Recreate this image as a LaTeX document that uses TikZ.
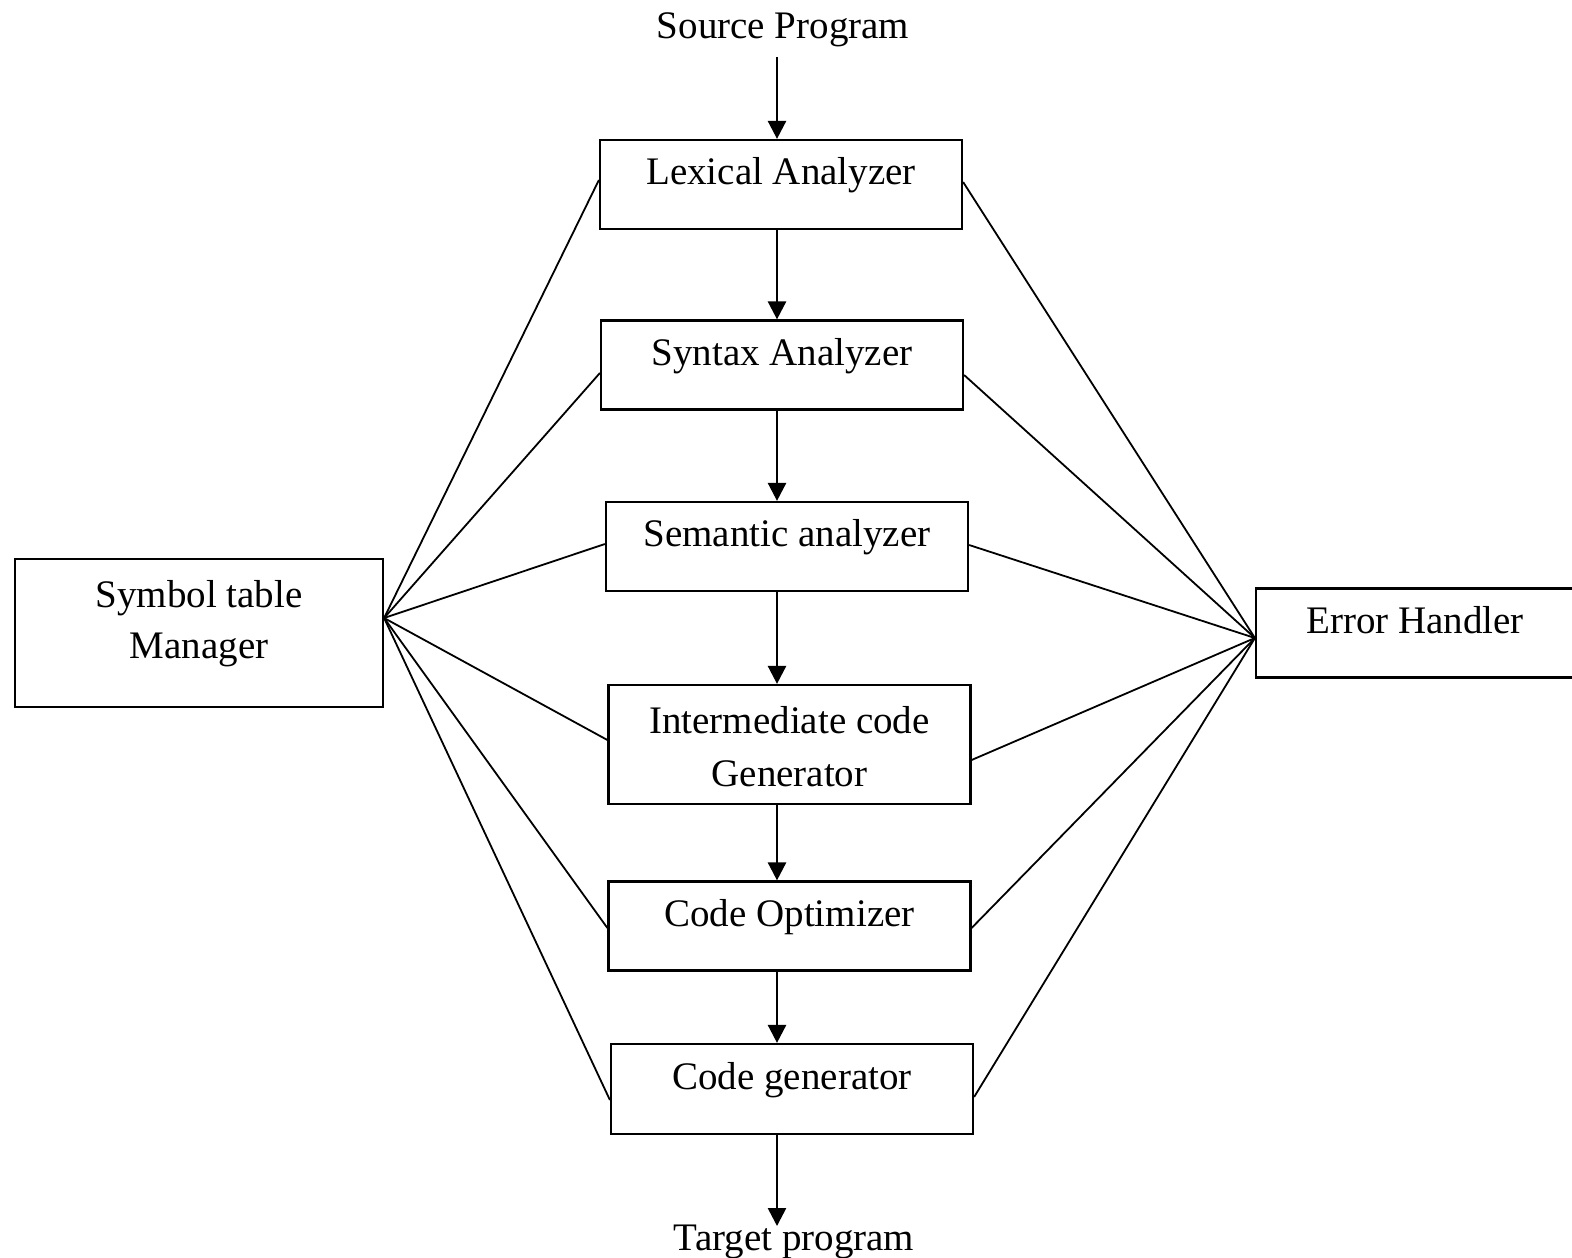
\documentclass[tikz,border=0pt]{standalone}
\usepackage{fontspec}
\setmainfont{Liberation Serif}
\usetikzlibrary{arrows.meta}
\begin{document}
\begin{tikzpicture}[x=0.5pt,y=-0.5pt,
  txtfont/.style={font=\fontsize{19.5pt}{25.5pt}\selectfont},
  box/.style={draw, line width=1.1pt, rectangle, inner sep=0pt, txtfont,
    text height=8pt, text depth=8pt, minimum height=44.5pt, minimum width=181pt, align=center},
  lbl/.style={txtfont, inner sep=0pt},
  arr/.style={line width=1.3pt, -{Triangle[width=9pt,length=9pt]}},
  link/.style={line width=0.9pt}]
\fill[white] (0,0) rectangle (1572,1257);
\useasboundingbox (0,0) rectangle (1572,1257);

\node[box] (lex) at (781,184.5) {Lexical Analyzer};
\node[box] (syn) at (782,365) {Syntax Analyzer};
\node[box] (sem) at (787,546.5) {Semantic analyzer};
\node[box, minimum height=59.5pt, text height=49.5pt, text depth=8pt] (int) at (789.5,744.5) {Intermediate code\\[1pt]Generator};
\node[box] (opt) at (789.5,926) {Code Optimizer};
\node[box, minimum height=45pt] (gen) at (792,1089) {Code generator};
\node[box, minimum width=184pt, minimum height=74pt, text height=33pt, text depth=8pt] (sym) at (199,633) {Symbol table\\Manager};
\node[box, minimum width=159pt] (err) at (1415,633) {Error Handler};
\node[lbl, anchor=base] (src) at (783,39) {Source Program};
\node[lbl, anchor=base] (tgt) at (794,1250) {Target program};

\coordinate (ax) at (777,0);
\coordinate (srcA) at (777,57);
\coordinate (tgtA) at (777,1226);

\draw[arr] (srcA) -- (lex.north -| ax);
\draw[arr] (lex.south -| ax) -- (syn.north -| ax);
\draw[arr] (syn.south -| ax) -- (sem.north -| ax);
\draw[arr] (sem.south -| ax) -- (int.north -| ax);
\draw[arr] (int.south -| ax) -- (opt.north -| ax);
\draw[arr] (opt.south -| ax) -- (gen.north -| ax);
\draw[arr] (gen.south -| ax) -- (tgtA);

\coordinate (hl) at ([yshift=7.5pt]sym.east);
\coordinate (hr) at ([yshift=-2.5pt]err.west);

\draw[link] (hl) -- ([yshift=2.25pt]lex.west);
\draw[link] (hl) -- ([yshift=-4pt]syn.west);
\draw[link] (hl) -- ([yshift=1.25pt]sem.west);
\draw[link] (hl) -- ([yshift=2.25pt]int.west);
\draw[link] (hl) -- ([yshift=-1pt]opt.west);
\draw[link] (hl) -- ([yshift=-5.5pt]gen.west);

\draw[link] (hr) -- ([yshift=1.25pt]lex.east);
\draw[link] (hr) -- ([yshift=-5pt]syn.east);
\draw[link] (hr) -- ([yshift=0.75pt]sem.east);
\draw[link] (hr) -- ([yshift=-7.75pt]int.east);
\draw[link] (hr) -- ([yshift=-1pt]opt.east);
\draw[link] (hr) -- ([yshift=-4pt]gen.east);
\end{tikzpicture}
\end{document}
